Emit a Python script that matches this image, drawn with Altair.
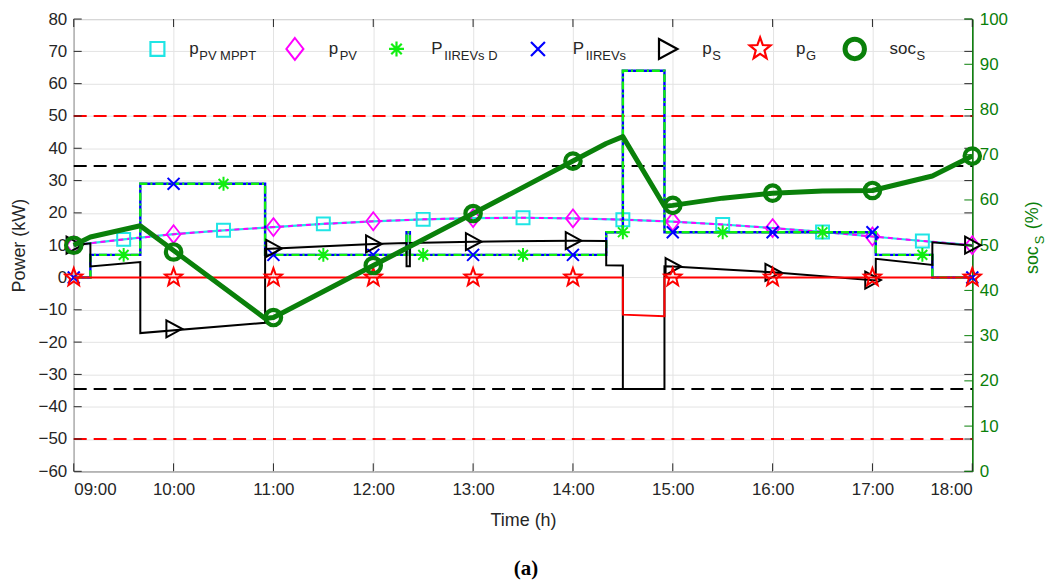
import math
import altair as alt
import pandas as pd

# ---------------- data ----------------
half_hours = ["09:00", "09:30", "10:00", "10:30", "11:00", "11:30", "12:00", "12:30", "13:00", "13:30",
              "14:00", "14:30", "15:00", "15:30", "16:00", "16:30", "17:00", "17:30", "18:00"]
pv_mppt_power = [10.0, 11.8, 13.4, 14.6, 15.6, 16.6, 17.4, 18.0, 18.4, 18.5,
                 18.3, 17.9, 17.3, 16.4, 15.3, 14.1, 12.7, 11.3, 10.0]
pv_power = [10.0, 11.8, 13.4, 14.6, 15.6, 16.6, 17.4, 18.0, 18.4, 18.5,
            18.3, 17.9, 17.3, 16.4, 15.3, 14.1, 12.7, 11.3, 10.0]

ev_time = ["09:00", "09:10", "09:10", "09:40", "09:40", "10:55", "10:55", "12:20", "12:20", "12:22", "12:22",
           "14:20", "14:20", "14:30", "14:30", "14:55", "14:55", "17:02", "17:02", "17:36", "17:36", "18:00"]
ev_power = [0, 0, 7, 7, 29, 29, 7, 7, 14, 14, 7, 7, 14, 14, 64, 64, 14, 14, 7, 7, 0, 0]
ev_demand_power = [0, 0, 7, 7, 29, 29, 7, 7, 14, 14, 7, 7, 14, 14, 64, 64, 14, 14, 7, 7, 0, 0]

ps_time = ["09:00", "09:10", "09:10", "09:40", "09:40", "10:55", "10:55", "12:00", "12:20", "12:20", "12:22",
           "12:22", "13:00", "14:00", "14:20", "14:20", "14:30", "14:30", "14:55", "14:55", "15:00", "16:00",
           "17:02", "17:02", "17:36", "17:36", "18:00"]
ps_power = [10.0, 10.6, 3.4, 4.8, -17.2, -14.0, 8.8, 10.4, 10.7, 3.5, 3.5,
            10.7, 11.1, 11.4, 11.3, 3.8, 3.7, -34.5, -34.5, 3.5, 3.4, 1.6,
            -0.9, 5.8, 3.9, 10.9, 9.8]

pg_time = ["09:00", "14:30", "14:30", "14:55", "14:55", "18:00"]
pg_power = [0, 0, -11.5, -12.0, 0, 0]

soc_time = ["09:00", "09:10", "09:40", "10:55", "11:00", "12:00", "13:00", "14:00", "14:20", "14:30",
            "14:55", "15:00", "15:30", "16:00", "16:30", "17:00", "17:36", "18:00"]
soc_value = [50.0, 51.8, 54.3, 33.8, 34.0, 45.5, 57.0, 68.6, 72.5, 74.0,
             58.6, 58.8, 60.4, 61.5, 62.0, 62.1, 65.3, 69.7]

hours = ["09:00", "10:00", "11:00", "12:00", "13:00", "14:00", "15:00", "16:00", "17:00", "18:00"]
halves = ["09:30", "10:30", "11:30", "12:30", "13:30", "14:30", "15:30", "16:30", "17:30"]
mk_pv_mppt = [11.8, 14.6, 16.6, 18.0, 18.5, 17.9, 16.4, 14.1, 11.3]
mk_pv = [10.0, 13.4, 15.6, 17.4, 18.4, 18.3, 17.3, 15.3, 12.7, 10.0]
mk_ev_demand = [7, 29, 7, 7, 7, 14, 14, 14, 7]
mk_ev = [0, 29, 7, 7, 7, 7, 14, 14, 14, 0]
mk_ps = [10.0, -15.9, 9.0, 10.4, 11.1, 11.4, 3.4, 1.6, -0.8, 10.0]
mk_pg = [0, 0, 0, 0, 0, 0, 0, 0, 0, 0]
mk_soc = [50.0, 48.5, 34.0, 45.5, 57.0, 68.6, 58.8, 61.5, 62.1, 69.7]

red_limits = [50, -50]
black_limits = [34.5, -34.5]
x_ticks = [9, 10, 11, 12, 13, 14, 15, 16, 17, 18]
left_ticks = [-60, -50, -40, -30, -20, -10, 0, 10, 20, 30, 40, 50, 60, 70, 80]
right_ticks = [0, 10, 20, 30, 40, 50, 60, 70, 80, 90, 100]

# ---------------- helpers ----------------
W, H = 902, 454
FONT = "Arial, Liberation Sans, Helvetica, sans-serif"
TXT = "#262626"
GRID = "#e3e3e3"
CYAN, MAGENTA, LIME, BLUE, RED, DKGREEN = "#1fe5e5", "#ff00ff", "#11ee11", "#0000ff", "#ff0000", "#0a800a"


def hrs(s):
    h, m = s.split(":")
    return int(h) + int(m) / 60.0


def frame(times, vals, col="v"):
    return pd.DataFrame({"t": [hrs(t) for t in times], col: vals, "i": list(range(len(vals)))})


x_axis = alt.Axis(values=x_ticks, labelExpr="(datum.value < 10 ? '0' : '') + datum.value + ':00'",
                  title="Time (h)", grid=True, gridColor=GRID, ticks=False, domain=False,
                  labelFont=FONT, labelFontSize=17, labelColor=TXT, labelPadding=10,
                  titleFont=FONT, titleFontSize=18, titleFontWeight="normal", titleColor=TXT, titlePadding=14)
X = alt.X("t:Q", scale=alt.Scale(domain=[9, 18], nice=False, zero=False), axis=x_axis)

left_axis = alt.Axis(values=left_ticks, title="Power (kW)", grid=True, gridColor=GRID, ticks=False,
                     domain=False, labelFont=FONT, labelFontSize=17, labelColor=TXT, labelPadding=7,
                     titleFont=FONT, titleFontSize=18, titleFontWeight="normal", titleColor=TXT,
                     titlePadding=10)
YL = alt.Y("v:Q", scale=alt.Scale(domain=[-60, 80], nice=False, zero=False), axis=left_axis)

right_axis = alt.Axis(values=right_ticks, title="", orient="right", grid=False, ticks=False,
                      domain=True, domainColor=DKGREEN, domainWidth=1.5, labelFont=FONT, labelFontSize=17,
                      labelColor=DKGREEN, labelPadding=7)
YR = alt.Y("s:Q", scale=alt.Scale(domain=[0, 100], nice=False, zero=False), axis=right_axis)


def star_path(inner=0.42):
    pts = []
    for k in range(10):
        r = 1.0 if k % 2 == 0 else inner
        a = -math.pi / 2 + k * math.pi / 5
        pts.append(f"{r * math.cos(a):.3f},{r * math.sin(a) * 1.05:.3f}")
    return "M" + "L".join(pts) + "Z"


SQUARE = "square"
DIAMOND = "M0,-1L0.78,0L0,1L-0.78,0Z"
ASTER = "M0,-1L0,1M-1,0L1,0M-0.7,-0.7L0.7,0.7M-0.7,0.7L0.7,-0.7"
XMARK = "M-1,-1L1,1M-1,1L1,-1"
TRI = "M-0.85,-1L1,0L-0.85,1Z"
STAR = star_path()
CIRCLE = "circle"


def line(df, color, width=2.0, dash=None, y=None):
    kw = dict(color=color, strokeWidth=width, strokeJoin="miter")
    if dash:
        kw["strokeDash"] = dash
    return alt.Chart(df).mark_line(**kw).encode(x=X, y=y if y is not None else YL, order="i:Q")


def points(df, shape, color, size, sw=1.8, y=None):
    return alt.Chart(df).mark_point(shape=shape, filled=False, color=color, size=size, strokeWidth=sw,
                                    opacity=1).encode(x=X, y=y if y is not None else YL)


# ---------------- left (power) layers ----------------
lim_red = alt.Chart(pd.DataFrame({"v": red_limits})).mark_rule(color=RED, strokeWidth=2, strokeDash=[13, 7]).encode(
    y=YL, x=alt.value(0), x2=alt.value(W))
lim_blk = alt.Chart(pd.DataFrame({"v": black_limits})).mark_rule(color="black", strokeWidth=2, strokeDash=[13, 7]).encode(
    y=YL, x=alt.value(0), x2=alt.value(W))

tick_df_l = pd.DataFrame({"v": left_ticks})
lt1 = alt.Chart(tick_df_l).mark_rule(color=TXT, strokeWidth=1).encode(y=YL, x=alt.value(0), x2=alt.value(8))
lt2 = alt.Chart(tick_df_l).mark_rule(color=TXT, strokeWidth=1).encode(y=YL, x=alt.value(W), x2=alt.value(W - 8))
tick_df_x = pd.DataFrame({"t": x_ticks})
xt1 = alt.Chart(tick_df_x).mark_rule(color=TXT, strokeWidth=1).encode(x=X, y=alt.value(H), y2=alt.value(H - 8))
xt2 = alt.Chart(tick_df_x).mark_rule(color=TXT, strokeWidth=1).encode(x=X, y=alt.value(0), y2=alt.value(8))

l_mppt = line(frame(half_hours, pv_mppt_power), CYAN, 2.2)
l_pv = line(frame(half_hours, pv_power), MAGENTA, 2.0, [5, 4])
l_ev = line(frame(ev_time, ev_power), BLUE, 2.4)
l_evd = line(frame(ev_time, ev_demand_power), LIME, 2.4, [8, 3, 2, 3])
l_ps = line(frame(ps_time, ps_power), "black", 2.0)
l_pg = line(frame(pg_time, pg_power), RED, 2.0)

p_mppt = points(frame(halves, mk_pv_mppt), SQUARE, CYAN, 169, 2.0)
p_pv = points(frame(hours, mk_pv), DIAMOND, MAGENTA, 324, 1.8)
p_evd = points(frame(halves, mk_ev_demand), ASTER, LIME, 196, 2.0)
p_ev = points(frame(hours, mk_ev), XMARK, BLUE, 144, 2.0)
p_ps = points(frame(hours, mk_ps), TRI, "black", 289, 2.0)
p_pg = points(frame(hours, mk_pg), STAR, RED, 324, 2.0)

left = alt.layer(lim_red, lim_blk, lt1, lt2, xt1, xt2,
                 l_mppt, l_pv, p_mppt, p_pv,
                 l_ev, l_evd, p_evd, p_ev,
                 l_ps, p_ps, l_pg, p_pg)

# ---------------- right (soc) layers ----------------
soc_df = frame(soc_time, soc_value, "s")
soc_line = alt.Chart(soc_df).mark_line(color=DKGREEN, strokeWidth=5, strokeJoin="round").encode(
    x=X, y=YR, order="i:Q")
soc_pts = points(frame(hours, mk_soc, "s"), CIRCLE, DKGREEN, 240, 4.2, y=YR)
rt = alt.Chart(pd.DataFrame({"s": right_ticks})).mark_rule(color=DKGREEN, strokeWidth=1).encode(
    y=YR, x=alt.value(W), x2=alt.value(W - 8))
right = alt.layer(rt, soc_line, soc_pts)

# ---------------- legend & annotations (pixel positioned) ----------------
dummy = pd.DataFrame({"a": [0]})
legend_items = [
    # symbol, color, size, stroke, symbol x, main text, main x, sub text, sub x
    (SQUARE, CYAN, 196, 2.2, 84, "p", 116, "PV MPPT", 126),
    (DIAMOND, MAGENTA, 484, 2.0, 222, "p", 256, "PV", 267),
    (ASTER, LIME, 225, 2.2, 324, "P", 359, "IIREVs D", 372),
    (XMARK, BLUE, 196, 2.2, 466, "P", 501, "IIREVs", 514),
    (TRI, "black", 400, 2.2, 596, "p", 631, "S", 641),
    (STAR, RED, 484, 2.2, 689, "p", 725, "G", 735),
    (CIRCLE, DKGREEN, 380, 5.0, 784, "soc", 819, "S", 846),
]
LEG_Y = 30
ann = []
for shp, col, size, sw, sx, main, mx, sub, subx in legend_items:
    ann.append(alt.Chart(dummy).mark_point(shape=shp, filled=False, color=col, size=size, strokeWidth=sw,
                                           opacity=1).encode(x=alt.value(sx), y=alt.value(LEG_Y)))
    ann.append(alt.Chart(dummy).mark_text(text=main, align="left", baseline="alphabetic", font=FONT,
                                          fontSize=17, color=TXT).encode(x=alt.value(mx), y=alt.value(35)))
    ann.append(alt.Chart(dummy).mark_text(text=sub, align="left", baseline="alphabetic", font=FONT,
                                          fontSize=13, color=TXT).encode(x=alt.value(subx), y=alt.value(41)))

# right axis title soc_S (%)
ann.append(alt.Chart(dummy).mark_text(text="soc", angle=270, align="left", baseline="alphabetic", font=FONT,
                                      fontSize=18, color=DKGREEN).encode(x=alt.value(968), y=alt.value(256)))
ann.append(alt.Chart(dummy).mark_text(text="S", angle=270, align="left", baseline="alphabetic", font=FONT,
                                      fontSize=13, color=DKGREEN).encode(x=alt.value(974), y=alt.value(226)))
ann.append(alt.Chart(dummy).mark_text(text="(%)", angle=270, align="left", baseline="alphabetic", font=FONT,
                                      fontSize=18, color=DKGREEN).encode(x=alt.value(968), y=alt.value(211)))
# panel label
ann.append(alt.Chart(dummy).mark_text(text="(a)", align="center", baseline="middle", font="Liberation Serif",
                                      fontSize=21, fontWeight="bold", color="black").encode(
    x=alt.value(454), y=alt.value(552)))

chart = alt.layer(left, right, *ann).resolve_scale(y="independent").properties(
    width=W, height=H,
    autosize=alt.AutoSizeParams(type="none"),
    padding={"left": 66, "top": 10, "right": 76, "bottom": 110},
).configure_view(stroke="black", strokeWidth=1)

chart.save("out.html", embed_options={"renderer": "svg", "actions": False})
